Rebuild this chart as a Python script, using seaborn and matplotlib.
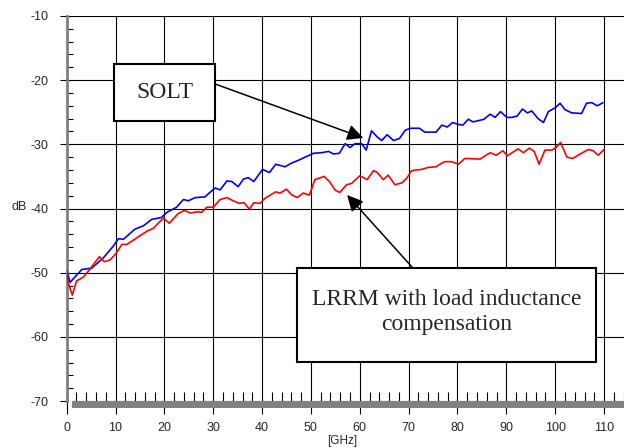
import numpy as np
import pandas as pd
import matplotlib
matplotlib.use('Agg')
import matplotlib.pyplot as plt
from matplotlib.patches import Rectangle
import seaborn as sns

# values (GHz, dB)
solt_ghz = [0, 0.7, 3.1, 5.1, 7.5, 9.5, 10.6, 11.6, 14.0, 15.7, 17.4, 19.4, 20.5, 22.5, 23.3,
            23.9, 24.9, 26.3, 28.3, 29.3, 30.4, 31.4, 32.8, 33.8, 35.1, 36.2, 37.2, 38.3, 40.1,
            41.5, 42.8, 44.7, 46.1, 47.4, 48.8, 50.5, 52.2, 53.6, 54.6, 55.8, 57.0, 58.0, 59.0,
            60.4, 61.3, 62.4, 63.5, 64.5, 65.6, 66.9, 68.1, 69.3, 70.3, 72.2, 73.3, 75.6, 76.8,
            77.9, 79.0, 80.2, 81.1, 82.2, 83.2, 85.4, 86.7, 87.7, 88.8, 90.1, 91.1, 92.2, 93.3,
            94.3, 95.2, 96.5, 97.6, 98.6, 100.0, 101.0, 102.0, 103.4, 105.4, 106.4, 107.5, 108.6,
            109.8]
solt_db = [-49.7, -51.5, -49.5, -49.3, -47.7, -45.9, -44.7, -44.8, -43.2, -42.7, -41.7, -41.4,
           -40.6, -39.8, -39.1, -38.6, -38.8, -38.3, -38.2, -37.5, -36.8, -37.1, -35.7, -35.8,
           -36.6, -35.4, -35.2, -35.8, -33.9, -34.4, -33.1, -33.5, -32.9, -32.5, -32.0, -31.4,
           -31.3, -31.1, -31.5, -31.4, -29.9, -30.5, -29.9, -29.9, -30.9, -27.9, -28.8, -29.4,
           -28.5, -29.4, -29.1, -27.8, -27.5, -27.5, -28.1, -28.1, -27.0, -27.3, -26.6, -26.9,
           -27.0, -26.1, -26.5, -26.1, -25.3, -25.8, -24.9, -25.8, -25.8, -25.6, -24.5, -25.1,
           -24.8, -26.0, -26.6, -24.9, -24.3, -23.6, -24.6, -25.1, -25.2, -23.6, -23.5, -24.0,
           -23.5]

lrrm_ghz = [0, 0.3, 1.15, 2.0, 3.4, 4.8, 6.7, 7.7, 8.9, 10.1, 11.3, 12.3, 14.3, 16.5, 17.7,
            19.8, 21.0, 22.8, 24.1, 25.3, 26.9, 27.6, 28.7, 30.0, 31.4, 32.8, 34.1, 35.3, 36.3,
            37.4, 38.3, 39.6, 40.6, 42.8, 43.7, 45.0, 46.1, 47.2, 48.4, 49.7, 50.8, 52.7, 53.8,
            54.9, 55.9, 57.3, 58.3, 60.0, 61.5, 62.8, 63.6, 64.8, 65.8, 67.2, 68.6, 69.6, 70.6,
            72.7, 74.0, 75.6, 76.4, 77.4, 78.8, 80.2, 81.5, 84.6, 86.7, 87.9, 89.3, 90.2, 92.4,
            93.5, 94.7, 95.7, 96.7, 97.9, 99.3, 100.2, 101.1, 102.4, 103.6, 105.1, 106.8, 107.8,
            108.8, 110.0]
lrrm_db = [-49.7, -51.6, -53.5, -51.3, -50.7, -49.4, -47.5, -48.3, -48.0, -47.0, -45.6, -45.6,
           -44.6, -43.5, -43.1, -41.5, -42.3, -40.8, -40.3, -40.7, -40.5, -40.6, -39.8, -39.8,
           -38.6, -38.3, -38.8, -39.2, -39.1, -40.1, -39.1, -39.2, -38.4, -37.4, -37.6, -37.0,
           -37.9, -38.3, -37.6, -37.9, -35.5, -35.0, -35.8, -37.1, -37.5, -36.3, -36.1, -34.9,
           -35.5, -34.1, -34.4, -35.5, -34.8, -36.3, -36.0, -35.3, -34.1, -33.9, -33.6, -33.5,
           -33.1, -32.7, -32.7, -33.1, -32.2, -32.3, -31.3, -31.7, -31.0, -31.8, -30.7, -31.3,
           -30.6, -31.1, -33.1, -30.9, -30.9, -30.5, -29.7, -32.0, -32.2, -31.5, -30.8, -31.0,
           -31.7, -30.8]

x_ticks = list(range(0, 111, 10))
y_ticks = list(range(-70, -9, 10))

df = pd.concat([
    pd.DataFrame({'GHz': solt_ghz, 'dB': solt_db, 'cal': 'SOLT'}),
    pd.DataFrame({'GHz': lrrm_ghz, 'dB': lrrm_db, 'cal': 'LRRM'}),
])

sns.set_theme(style='white')
plt.rcParams['font.family'] = ['Liberation Sans', 'DejaVu Sans']
plt.rcParams['axes.unicode_minus'] = False

fig = plt.figure(figsize=(6.24, 4.48), dpi=100)
ax = fig.add_axes([66.7 / 624, 47 / 448, 1 - 66.7 / 624, 385 / 448])

sns.lineplot(data=df, x='GHz', y='dB', hue='cal', palette={'SOLT': '#0000ff', 'LRRM': '#ff0000'},
             linewidth=1.2, legend=False, ax=ax, zorder=3)

ax.set_xlim(0, 557.3 / 4.885)
ax.set_ylim(-70, -10)
ax.set_xticks(x_ticks)
ax.set_yticks(y_ticks)
ax.set_xticks(np.arange(2, 115, 2), minor=True)
ax.set_yticks(np.arange(-68, -10, 2), minor=True)
ax.set_xlabel('')
ax.set_ylabel('')
ax.grid(True, which='major', color='black', linewidth=0.8)

for s in ['top', 'right', 'bottom']:
    ax.spines[s].set_visible(False)
ax.spines['left'].set_color('#808080')
ax.spines['left'].set_linewidth(2)

ax.tick_params(axis='y', which='major', direction='out', length=5, width=0.8, color='black',
               labelsize=9, pad=8, left=True)
ax.tick_params(axis='x', which='major', direction='out', length=9, width=0.8, color='black',
               labelsize=9, pad=6, bottom=True)
ax.tick_params(axis='y', which='minor', direction='in', length=4.5, width=0.8, color='black', left=True)
ax.tick_params(axis='x', which='minor', direction='in', length=6.5, width=0.8, color='black', bottom=True)

# gray bar under the x axis
ax.add_patch(Rectangle((1, -71.1), 120, 1.1, facecolor='#808080', edgecolor='none',
                       clip_on=False, zorder=1))

fig.text(12 / 624, 1 - 207 / 448, 'dB', fontsize=9, va='center', ha='left')
fig.text(342 / 624, 1 - 435 / 448, '[GHz]', fontsize=8.5, va='top', ha='center')

serif = ['Liberation Serif', 'DejaVu Serif']

# SOLT label box
ax.add_patch(Rectangle((9.7, -26.4), 20.7, 8.9, facecolor='white', edgecolor='black',
                       linewidth=1.5, zorder=5))
ax.text(20.05, -21.9, 'SOLT', family=serif, fontsize=17, ha='center', va='center', zorder=6)
ax.annotate('', xy=(60.7, -29.0), xytext=(30.4, -20.6),
            arrowprops=dict(arrowstyle='-|>', color='black', lw=1.1, mutation_scale=24,
                            shrinkA=0, shrinkB=0), zorder=6)

# LRRM label box
ax.add_patch(Rectangle((47.1, -63.9), 61.3, 14.6, facecolor='white', edgecolor='black',
                       linewidth=1.5, zorder=5))
ax.text(77.75, -56.2, 'LRRM with load inductance\ncompensation', family=serif, fontsize=17,
        ha='center', va='center', linespacing=1.25, zorder=6)
ax.annotate('', xy=(57.4, -37.9), xytext=(70.9, -49.3),
            arrowprops=dict(arrowstyle='-|>', color='black', lw=1.1, mutation_scale=24,
                            shrinkA=0, shrinkB=0), zorder=6)

fig.savefig('out.png', dpi=100)
